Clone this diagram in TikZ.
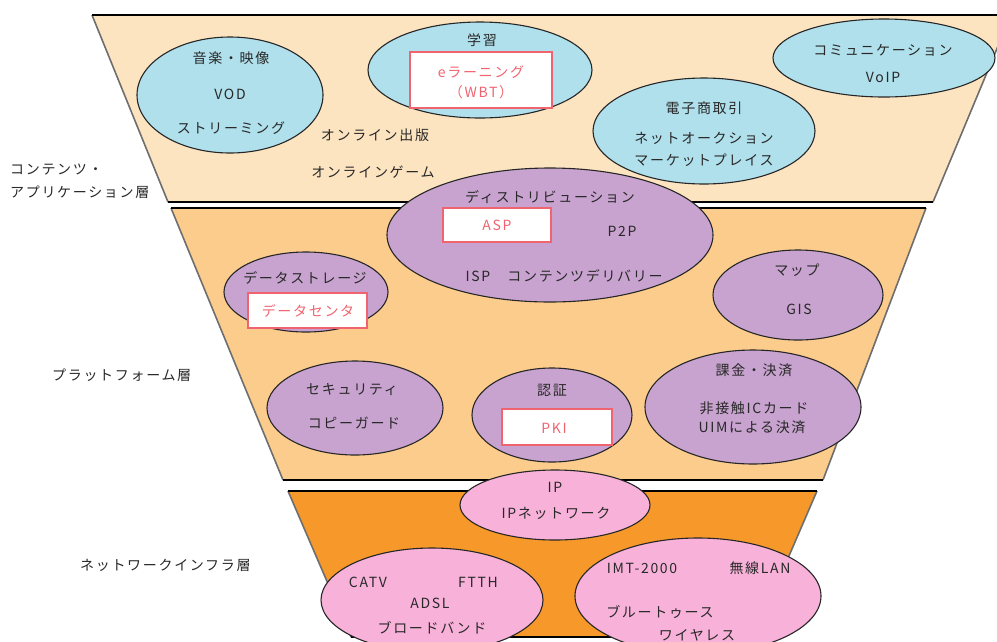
\documentclass[tikz,border=0pt]{standalone}
\usepackage{fontspec}
\setmainfont{Noto Sans CJK JP}
\usetikzlibrary{shapes.geometric}
\definecolor{bandA}{RGB}{253,228,193}
\definecolor{bandB}{RGB}{252,204,140}
\definecolor{bandC}{RGB}{247,152,42}
\definecolor{cblue}{RGB}{176,224,236}
\definecolor{cpurple}{RGB}{200,163,207}
\definecolor{cpink}{RGB}{248,178,218}
\definecolor{cred}{RGB}{240,100,112}
\definecolor{ctext}{RGB}{40,40,40}
\definecolor{cedge}{RGB}{110,110,110}
\begin{document}
\begin{tikzpicture}[x=1pt,y=-1pt,
  font=\fontsize{14}{16}\selectfont\addfontfeatures{LetterSpace=12},
  blob/.style={ellipse, draw=black!85, line width=1.1pt, inner sep=0pt},
  lbl/.style={text=ctext, inner sep=0pt},
  redbox/.style={draw=cred, line width=1.6pt, fill=white, inner sep=0pt},
  redtxt/.style={text=cred, inner sep=0pt},
  hedge/.style={draw=black, line width=2pt},
  sedge/.style={draw=cedge, line width=1.6pt}]
\useasboundingbox (0,0) rectangle (997,641);
\clip (0,0) rectangle (997,641);
\fill[white] (0,0) rectangle (997,641);
% bands
\fill[bandA] (92,15) -- (1011,15) -- (933,202) -- (168,202) -- cycle;
\fill[bandB] (171,208) -- (926,208) -- (823,480) -- (283,480) -- cycle;
\fill[bandC] (288,491) -- (817,491) -- (754,637) -- (351,637) -- cycle;
\draw[sedge] (92,15) -- (168,202);
\draw[sedge] (1011,15) -- (933,202);
\draw[sedge] (171,208) -- (283,480);
\draw[sedge] (926,208) -- (823,480);
\draw[sedge] (288,491) -- (351,637);
\draw[sedge] (817,491) -- (754,637);
\draw[hedge] (92,15) -- (1011,15);
\draw[hedge] (168,202) -- (933,202);
\draw[hedge] (171,208) -- (926,208);
\draw[hedge] (283,480) -- (823,480);
\draw[hedge] (288,491) -- (817,491);
\draw[hedge] (351,637) -- (754,637);
% content layer
\node[blob, fill=cblue, minimum width=186pt, minimum height=116pt] (e1) at (230,95) {};
\node[lbl] (t1a) at (231,58) {音楽・映像};
\node[lbl] (t1b) at (230,94) {VOD};
\node[lbl] (t1c) at (231,128) {ストリーミング};
\node[blob, fill=cblue, minimum width=224pt, minimum height=96pt] (e2) at (480,70) {};
\node[lbl] (t2a) at (482,40) {学習};
\node[redbox, minimum width=142pt, minimum height=56pt] (b2) at (481,80) {};
\node[redtxt] (t2b) at (481,72) {eラーニング};
\node[redtxt] (t2c) at (481,92) {（WBT）};
\node[blob, fill=cblue, minimum width=222pt, minimum height=78pt] (e3) at (884,58) {};
\node[lbl] (t3a) at (883,50) {コミュニケーション};
\node[lbl] (t3b) at (883,77) {VoIP};
\node[lbl] (t5a) at (375,135) {オンライン出版};
\node[lbl] (t5b) at (373,172) {オンラインゲーム};
\node[lbl, anchor=west] (L1a) at (10,170) {コンテンツ・};
\node[lbl, anchor=west] (L1b) at (10,192) {アプリケーション層};
% platform layer
\node[blob, fill=cpurple, minimum width=326pt, minimum height=134pt] (e7) at (550,235) {};
\node[blob, fill=cblue, minimum width=222pt, minimum height=106pt] (e4) at (704,131) {};
\node[lbl] (t4a) at (704,108) {電子商取引};
\node[lbl] (t4b) at (704,138) {ネットオークション};
\node[lbl] (t4c) at (704,160) {マーケットプレイス};
\node[lbl] (t7a) at (550,197) {ディストリビューション};
\node[redbox, minimum width=108pt, minimum height=34pt] (b7) at (497,225) {};
\node[redtxt] (t7b) at (497,225) {ASP};
\node[lbl] (t7c) at (622,231) {P2P};
\node[lbl] (t7d) at (478,276) {ISP};
\node[lbl] (t7e) at (585,276) {コンテンツデリバリー};
\node[blob, fill=cpurple, minimum width=164pt, minimum height=80pt] (e8) at (306,292) {};
\node[lbl] (t8a) at (305,278) {データストレージ};
\node[redbox, minimum width=119pt, minimum height=35pt] (b8) at (307.5,310.5) {};
\node[redtxt] (t8b) at (308,311) {データセンタ};
\node[blob, fill=cpurple, minimum width=170pt, minimum height=90pt] (e9) at (798,295) {};
\node[lbl] (t9a) at (797,270) {マップ};
\node[lbl] (t9b) at (799,309) {GIS};
\node[blob, fill=cpurple, minimum width=176pt, minimum height=94pt] (e10) at (355,408) {};
\node[lbl] (t10a) at (352,390) {セキュリティ};
\node[lbl] (t10b) at (354,423) {コピーガード};
\node[blob, fill=cpurple, minimum width=160pt, minimum height=94pt] (e11) at (552,415) {};
\node[lbl] (t11a) at (552,390) {認証};
\node[redbox, minimum width=110pt, minimum height=36pt] (b11) at (557,427) {};
\node[redtxt] (t11b) at (554,428) {PKI};
\node[blob, fill=cpurple, minimum width=216pt, minimum height=114pt] (e12) at (753,407) {};
\node[lbl] (t12a) at (754,370) {課金・決済};
\node[lbl] (t12b) at (754,408) {非接触ICカード};
\node[lbl] (t12c) at (752,427) {UIMによる決済};
\node[lbl, anchor=west] (L2) at (52,375) {プラットフォーム層};
% network layer
\node[blob, fill=cpink, minimum width=190pt, minimum height=70pt] (e14) at (555,505) {};
\node[lbl] (t14a) at (555,487) {IP};
\node[lbl] (t14b) at (556,513) {IPネットワーク};
\node[blob, fill=cpink, minimum width=222pt, minimum height=104pt] (e15) at (432,600) {};
\node[lbl] (t15a) at (368,582) {CATV};
\node[lbl] (t15b) at (478,582) {FTTH};
\node[lbl] (t15c) at (430,603) {ADSL};
\node[lbl] (t15d) at (432,628) {ブロードバンド};
\node[blob, fill=cpink, minimum width=246pt, minimum height=116pt] (e16) at (698,596) {};
\node[lbl] (t16a) at (642,568) {IMT-2000};
\node[lbl] (t16b) at (760,568) {無線LAN};
\node[lbl] (t16c) at (660,612) {ブルートゥース};
\node[lbl] (t16d) at (697,635) {ワイヤレス};
\node[lbl, anchor=west] (L3) at (80,565) {ネットワークインフラ層};
\end{tikzpicture}
\end{document}
